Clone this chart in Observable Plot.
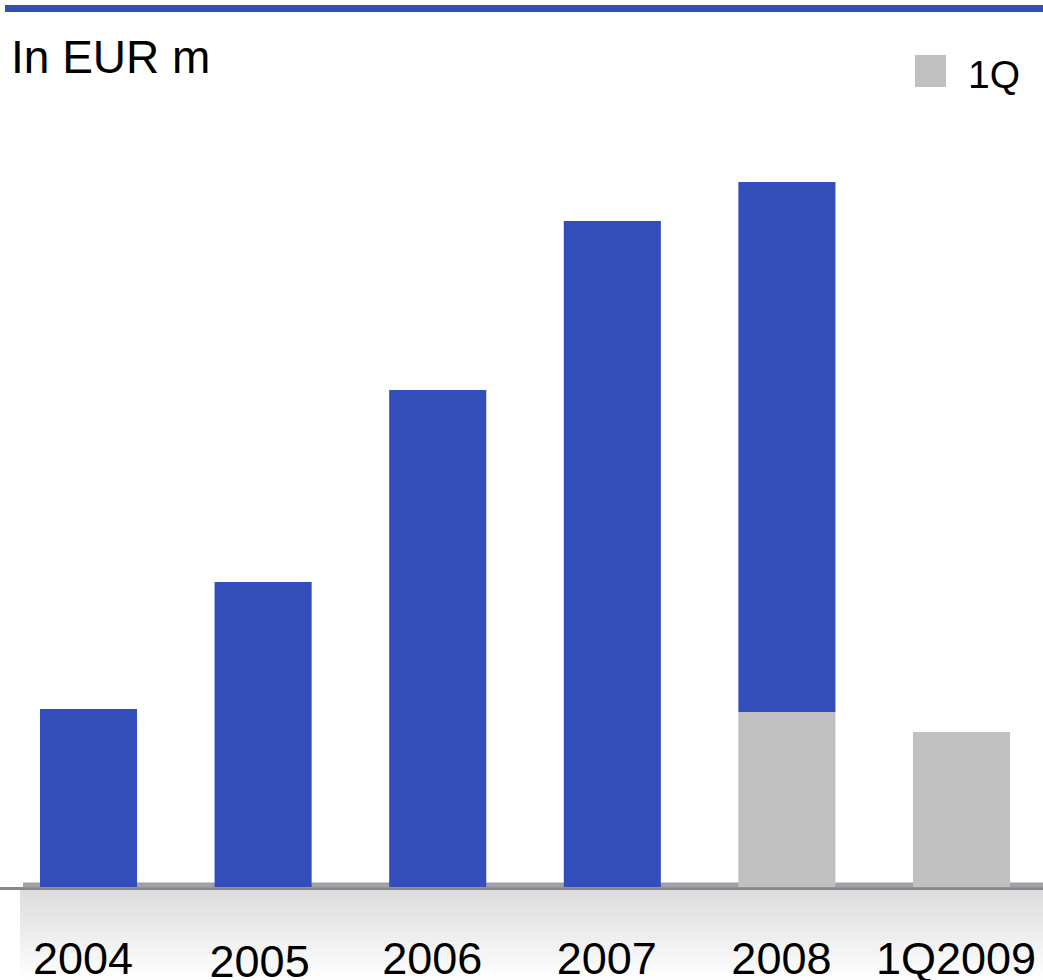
<!DOCTYPE html>
<html>
<head>
<meta charset="utf-8">
<script src="https://cdn.jsdelivr.net/npm/d3@7"></script>
<script src="https://cdn.jsdelivr.net/npm/@observablehq/plot@0.6"></script>
<style>
  html, body { margin: 0; padding: 0; background: #fff; }
  #wrap { position: relative; width: 1043px; height: 980px; overflow: hidden; font-family: "Liberation Sans", Arial, sans-serif; }
  .abs { position: absolute; }
  #topline { left: 5px; top: 5px; width: 1038px; height: 7px; background: #3350b9; }
  #title { left: 11px; top: 34px; font-size: 46px; line-height: 46px; color: #000; white-space: nowrap; }
  #legsq { left: 915px; top: 55px; width: 31px; height: 32px; background: #c0c0c0; }
  #legtx { left: 968px; top: 55px; font-size: 39px; line-height: 39px; color: #000; }
  #grad { left: 20px; top: 890px; width: 1023px; height: 90px; background: linear-gradient(#dcdcdc, #ffffff); }
  #base { left: 0; top: 887px; width: 1043px; height: 3px; background: #888888; }
  #chart { position: absolute; left: 0; top: 100px; z-index: 1; }
</style>
</head>
<body>
<div id="wrap">
  <div id="topline" class="abs"></div>
  <div id="title" class="abs">In EUR m</div>
  <div id="legsq" class="abs"></div>
  <div id="legtx" class="abs">1Q</div>
  <div id="grad" class="abs"></div>
  <div id="base" class="abs"></div>
  <div id="chart"></div>
</div>
<script>
const categories = ["2004", "2005", "2006", "2007", "2008", "1Q2009"];
const annualTotal = [178, 305, 497, 666, 705, null];
const firstQuarter = [null, null, null, null, 175, 155];
const partNames = ["1Q", "rest"];
const partColors = ["#c0c0c0", "#334ebb"];

const rows = [];
categories.forEach((cat, i) => {
  const q = firstQuarter[i];
  const t = annualTotal[i];
  if (q != null) rows.push({cat, part: "1Q", value: q});
  if (t != null) rows.push({cat, part: "rest", value: t - (q ?? 0)});
});

const font = "Liberation Sans, Arial, sans-serif";

const chart = Plot.plot({
  width: 1043,
  height: 880,
  marginTop: 37,
  marginBottom: 93,
  marginLeft: 23,
  marginRight: 0,
  style: {background: "transparent", fontFamily: font, overflow: "visible"},
  x: {domain: categories, paddingInner: 0.444, paddingOuter: 0.143, align: 0.34, round: false, axis: null},
  y: {domain: [0, 750], axis: null},
  color: {domain: partNames, range: partColors},
  marks: [
    Plot.ruleY([0], {stroke: "#a0a0a8", strokeWidth: 5, dy: -2.5}),
    Plot.barY(rows, {x: "cat", y: "value", fill: "part"}),
    Plot.text(categories.filter(c => c !== "2005"), {
      x: d => d, text: d => d, frameAnchor: "bottom", lineAnchor: "bottom",
      dy: 86, dx: -6, fontSize: 45, fill: "#000", fontFamily: font
    }),
    Plot.text(categories.filter(c => c === "2005"), {
      x: d => d, text: d => d, frameAnchor: "bottom", lineAnchor: "bottom",
      dy: 89, dx: -4, fontSize: 45, fill: "#000", fontFamily: font
    })
  ]
});
document.getElementById("chart").appendChild(chart);
</script>
</body>
</html>
